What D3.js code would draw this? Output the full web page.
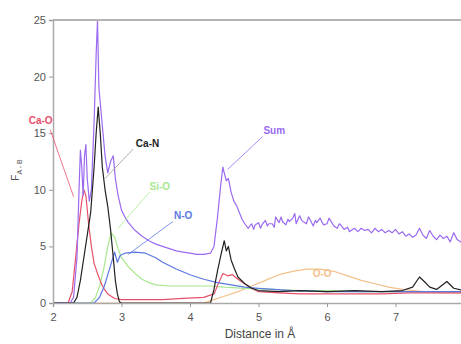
<!DOCTYPE html>
<html>
<head>
<meta charset="utf-8">
<script src="https://cdn.jsdelivr.net/npm/d3@7"></script>
<style>
  body { margin: 0; background: #fff; }
  svg { display: block; font-family: "Liberation Sans", Arial, sans-serif; }
</style>
</head>
<body>
<div id="chart"></div>
<script>
// radial distribution curves, [distance, F]
const sumData = [[2.0,0],[2.25,0],[2.3,0.5],[2.35,4],[2.38,10],[2.4,13.5],[2.42,12],[2.44,9.5],[2.46,13],[2.48,14],[2.5,11],[2.53,9],[2.56,10],[2.6,16],[2.63,22],[2.65,25],[2.67,19],[2.7,17],[2.73,15],[2.76,13],[2.8,11.5],[2.84,12.5],[2.88,13],[2.91,11],[2.95,9.5],[3.0,8.2],[3.05,7.6],[3.1,7.1],[3.2,6.4],[3.3,5.9],[3.4,5.5],[3.5,5.2],[3.6,5.0],[3.7,4.8],[3.8,4.6],[3.9,4.5],[4.0,4.4],[4.1,4.3],[4.2,4.3],[4.3,4.4],[4.35,5],[4.4,7.5],[4.45,10.5],[4.48,12],[4.5,11.5],[4.53,10.8],[4.56,11],[4.6,9.8],[4.64,9],[4.68,8.6],[4.72,8.0],[4.76,7.4],[4.8,7.0],[4.85,6.6],[4.9,7.0],[4.93,6.5],[4.95,6.9],[5.0,7.1],[5.03,6.6],[5.05,6.9],[5.1,7.3],[5.13,6.8],[5.15,7.0],[5.2,7.0],[5.23,6.7],[5.25,7.6],[5.3,7.1],[5.33,7.6],[5.35,7.2],[5.4,6.9],[5.43,7.4],[5.45,7.2],[5.5,7.5],[5.53,7.9],[5.55,7.0],[5.6,7.7],[5.63,7.3],[5.65,7.2],[5.7,7.0],[5.73,7.6],[5.75,7.4],[5.8,6.8],[5.83,7.3],[5.85,7.1],[5.9,7.5],[5.93,7.1],[5.95,6.9],[6.0,7.0],[6.03,7.5],[6.05,7.3],[6.1,6.8],[6.15,6.6],[6.18,7.0],[6.2,6.9],[6.25,6.5],[6.3,6.7],[6.33,6.3],[6.35,6.4],[6.4,6.6],[6.45,6.3],[6.5,6.6],[6.55,6.4],[6.6,6.5],[6.65,6.2],[6.7,6.6],[6.75,6.3],[6.8,6.5],[6.85,6.2],[6.9,6.4],[6.95,6.2],[7.0,6.5],[7.05,6.1],[7.1,6.3],[7.15,5.9],[7.2,6.1],[7.25,5.8],[7.3,6.0],[7.35,6.6],[7.4,6.0],[7.45,5.7],[7.5,6.4],[7.55,5.9],[7.6,5.6],[7.65,6.0],[7.7,5.7],[7.75,5.9],[7.8,5.4],[7.85,6.2],[7.9,5.6],[7.95,5.4],[8.0,5.2]];

const caOData = [[2.0,0],[2.22,0],[2.28,1],[2.33,4],[2.38,7],[2.42,9],[2.45,10],[2.48,9.5],[2.52,7],[2.56,5],[2.6,3.5],[2.65,2.6],[2.7,1.8],[2.75,1.2],[2.8,0.8],[2.9,0.4],[3.0,0.3],[3.3,0.3],[3.6,0.3],[3.9,0.4],[4.2,0.5],[4.35,0.8],[4.42,1.8],[4.48,2.6],[4.55,2.4],[4.62,2.5],[4.7,2.1],[4.8,1.7],[4.9,1.3],[5.0,1.0],[5.3,0.9],[5.6,0.8],[6.0,0.8],[6.4,0.8],[6.8,0.8],[7.2,0.9],[7.6,0.9],[8.0,0.9]];

const caNData = [[2.0,0],[2.3,0],[2.35,0.5],[2.4,2],[2.45,4],[2.5,6],[2.55,8],[2.6,12],[2.63,15],[2.66,17.3],[2.69,15],[2.72,12],[2.76,10],[2.8,8.5],[2.84,6.5],[2.88,4],[2.91,2],[2.94,0.8],[2.97,0.1],[3.0,0],[4.3,0],[4.35,1.2],[4.4,2.8],[4.45,4.2],[4.5,5.5],[4.53,4.6],[4.56,5.0],[4.6,3.8],[4.65,3.0],[4.7,2.3],[4.8,1.7],[4.9,1.3],[5.0,1.1],[5.3,1.0],[5.6,1.1],[6.0,1.0],[6.4,1.1],[6.8,1.0],[7.1,1.1],[7.25,1.4],[7.35,2.3],[7.42,1.9],[7.5,1.4],[7.6,1.2],[7.75,1.9],[7.85,1.3],[8.0,1.1]];

const siOData = [[2.0,0],[2.55,0],[2.62,0.5],[2.68,1.5],[2.74,3],[2.8,5],[2.85,6.2],[2.9,5.8],[2.95,4.8],[3.0,4],[3.1,3.2],[3.2,2.6],[3.3,2.1],[3.4,1.8],[3.5,1.6],[3.7,1.5],[4.0,1.5],[4.3,1.5],[4.5,1.4],[4.8,1.3],[5.2,1.2],[5.6,1.1],[6.0,1.1],[6.5,1.0],[7.0,1.0],[7.5,1.0],[8.0,1.0]];

const nOData = [[2.0,0],[2.6,0],[2.68,0.5],[2.75,1.5],[2.8,2.5],[2.85,3.5],[2.9,4.5],[2.94,3.6],[2.98,4.2],[3.05,4.4],[3.2,4.5],[3.35,4.4],[3.5,4.0],[3.6,3.6],[3.8,3.0],[4.0,2.5],[4.2,2.1],[4.4,1.8],[4.6,1.6],[4.8,1.4],[5.0,1.3],[5.5,1.1],[6.0,1.0],[6.5,1.0],[7.0,1.0],[7.5,1.0],[8.0,1.0]];

const oOData = [[2.0,0],[4.2,0],[4.35,0.3],[4.5,0.6],[4.7,1.0],[4.9,1.5],[5.1,2.0],[5.3,2.5],[5.5,2.8],[5.7,3.0],[5.9,3.0],[6.1,2.8],[6.3,2.4],[6.5,2.0],[6.7,1.7],[6.9,1.4],[7.1,1.2],[7.4,1.0],[7.7,0.9],[8.0,0.9]];

const xTicks = [2, 3, 4, 5, 6, 7, 8];
const yTicks = [0, 5, 10, 15, 20, 25];

const series = [
  { name: "O-O", data: oOData, color: "#f3c08a" },
  { name: "Si-O", data: siOData, color: "#a8e890" },
  { name: "Ca-O", data: caOData, color: "#e8506a" },
  { name: "N-O", data: nOData, color: "#5a78e0" },
  { name: "Sum", data: sumData, color: "#9a6af0" },
  { name: "Ca-N", data: caNData, color: "#222" }
];

// labels with leader lines, in data units
const notes = [
  { text: "Ca-O", color: "#e8506a", x: 1.82, y: 16.1, lx: [1.96, 15.3], tx: [2.3, 9.4] },
  { text: "Ca-N", color: "#222", x: 3.38, y: 14.1, lx: [3.17, 13.6], tx: [2.76, 11.0] },
  { text: "Si-O", color: "#a8e890", x: 3.56, y: 10.3, lx: [3.41, 9.8], tx: [2.95, 6.6] },
  { text: "N-O", color: "#5a78e0", x: 3.9, y: 7.7, lx: [3.75, 7.2], tx: [3.1, 4.3] },
  { text: "Sum", color: "#9a6af0", x: 5.23, y: 15.2, lx: [5.06, 14.7], tx: [4.55, 11.8] },
  { text: "O-O", color: "#f3c08a", x: 5.93, y: 2.6, lx: null, tx: null }
];

const W = 461, H = 344;
const x = d3.scaleLinear().domain([2, 8]).range([53, 464]);
const y = d3.scaleLinear().domain([0, 25]).range([303, 20]);

const svg = d3.select("#chart").append("svg")
  .attr("width", W)
  .attr("height", H);

svg.append("defs").append("clipPath").attr("id", "plotclip")
  .append("rect").attr("x", 53).attr("y", 18).attr("width", 420).attr("height", 287);

const line = d3.line()
  .x(d => x(d[0]))
  .y(d => y(d[1]));

const plot = svg.append("g").attr("clip-path", "url(#plotclip)");

plot.selectAll(".curve")
  .data(series)
  .enter()
  .append("path")
  .attr("class", "curve")
  .attr("d", d => line(d.data))
  .attr("fill", "none")
  .attr("stroke", d => d.color)
  .attr("stroke-width", 1.2)
  .attr("stroke-linejoin", "round");

// top frame line
svg.append("line")
  .attr("x1", 53).attr("x2", W)
  .attr("y1", y(25)).attr("y2", y(25))
  .attr("stroke", "#b4b4b4")
  .attr("stroke-width", 2);

let xAxis = svg.append("g")
  .attr("transform", "translate(0," + y(0) + ")")
  .call(d3.axisBottom(x).tickValues(xTicks).tickSize(4).tickFormat(d3.format("d")));

let yAxis = svg.append("g")
  .attr("transform", "translate(" + x(2) + ",0)")
  .call(d3.axisLeft(y).tickValues(yTicks).tickSize(4).tickFormat(d3.format("d")));

[xAxis, yAxis].forEach(a => {
  a.select(".domain").attr("stroke", "#aaa").attr("stroke-width", 1.5);
  a.selectAll(".tick line").attr("stroke", "#999");
  a.selectAll(".tick text").attr("fill", "#555").style("font-size", "11px");
});
xAxis.selectAll(".tick text").attr("dy", "1em");

svg.append("text")
  .attr("x", 260)
  .attr("y", 338)
  .attr("text-anchor", "middle")
  .attr("fill", "#444")
  .style("font-size", "12px")
  .text("Distance in Å");

let yl = svg.append("text")
  .attr("transform", "translate(19,170) rotate(-90)")
  .attr("text-anchor", "middle")
  .attr("fill", "#555")
  .style("font-size", "10px");
yl.append("tspan").text("F");
yl.append("tspan").attr("dy", 3).style("font-size", "7px").text("A - B");

notes.forEach(n => {
  if (n.lx) {
    svg.append("line")
      .attr("x1", x(n.lx[0])).attr("y1", y(n.lx[1]))
      .attr("x2", x(n.tx[0])).attr("y2", y(n.tx[1]))
      .attr("stroke", n.color === "#222" ? "#999" : n.color)
      .attr("stroke-width", 0.8);
  }
  svg.append("text")
    .attr("x", x(n.x))
    .attr("y", y(n.y))
    .attr("dy", "0.35em")
    .attr("text-anchor", "middle")
    .attr("fill", n.color)
    .style("font-size", "10px")
    .style("font-weight", "bold")
    .text(n.text);
});
</script>
</body>
</html>
